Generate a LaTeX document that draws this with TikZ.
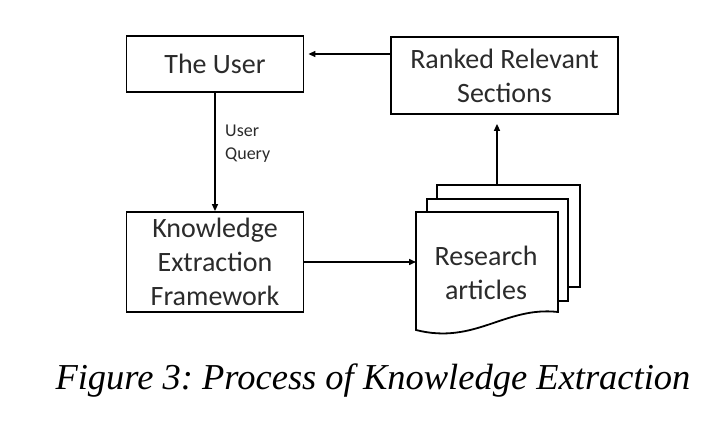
\documentclass[tikz,border=0pt]{standalone}
\usepackage{fontspec}
\setmainfont{Liberation Serif}
\newfontfamily\boxfont{Carlito}
\usetikzlibrary{arrows.meta}
\definecolor{boxink}{HTML}{2B2B2B}
\frenchspacing

\begin{document}
\begin{tikzpicture}[
  x=1pt,
  y=-1pt,
  box/.style={draw=black, line width=1.8pt, fill=white, inner sep=0pt,
    align=center, text=boxink, font={\boxfont\fontsize{28}{34}\selectfont}},
  sheet/.style={draw=black, line width=1.8pt, fill=white},
  flow/.style={black, line width=1.5pt, -{Triangle[length=7pt, width=6pt]}},
  note/.style={text=boxink, align=left, inner sep=0pt,
    font={\boxfont\fontsize{18}{23}\selectfont}}
]
\useasboundingbox (0,0) rectangle (720,427);

% =====================================================================
% boxes
% =====================================================================
\node[box, minimum width=177pt, minimum height=56pt] (user) at (215,64)
  {The User};
\node[box, minimum width=227pt, minimum height=77pt] (ranked) at (504.5,75.5)
  {Ranked Relevant\\Sections};
\node[box, minimum width=177pt, minimum height=100pt] (knowledge) at (215,262)
  {Knowledge\\Extraction\\Framework};

% =====================================================================
% stack of articles
% =====================================================================
\draw[sheet] (437,185) rectangle (580,287);
\draw[sheet] (427,199) rectangle (568,301);
\draw[sheet] (416,212) -- (558,212) -- (558,312)
  .. controls (505,306) and (475,345) .. (416,330) -- cycle;
\node[text=boxink, align=center, inner sep=0pt,
  font={\boxfont\fontsize{28}{34}\selectfont}] (articles) at (486,273)
  {Research\\articles};

% =====================================================================
% connectors
% =====================================================================
\coordinate (backrow) at (0,54);
\coordinate (stackleft) at (416,262);
\coordinate (stacktop) at (497,185);

\draw[flow, shorten >=4pt] (ranked.west |- backrow) -- (user.east |- backrow);
\draw[flow] (user) -- (knowledge);
\draw[flow] (knowledge.east) -- (stackleft);
\draw[flow, shorten >=9pt] (stacktop) -- (stacktop |- ranked.south);

\node[note, anchor=west] (query) at (225,143.5) {User\\Query};

% caption
\node[font={\itshape\fontsize{36.5}{44}\selectfont}] (caption) at (373,381)
  {Figure 3: Process of Knowledge Extraction};
\end{tikzpicture}
\end{document}
